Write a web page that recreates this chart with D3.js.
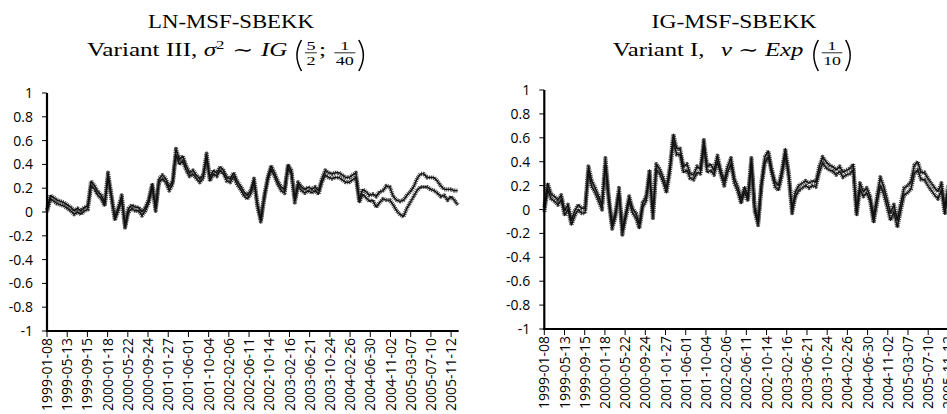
<!DOCTYPE html>
<html lang="en">
<head>
<meta charset="UTF-8">
<title>MSF-SBEKK correlations</title>
<script src="https://cdn.jsdelivr.net/npm/d3@7"></script>
<style>
  body { margin: 0; background: #fff; }
  svg { display: block; }
  .tick-label { font-family: "Open Sans", "DejaVu Sans", sans-serif; font-size: 14px; fill: #000; }
  .ttl { font-family: "Liberation Serif", "DejaVu Serif", serif; fill: #000; white-space: pre; }
  .axis-line { stroke: #000; stroke-width: 2.2; }
  .tick-mark { stroke: #000; stroke-width: 1; }
</style>
</head>
<body>
<svg id="chart" width="947" height="414"></svg>
<script>
// ---- data (21-day sampling from 1999-01-08) ----
var startDate = "1999-01-08";
var endDate = "2005-12-29";
var stepDays = 21;

var xTickLabels = ["1999-01-08","1999-05-13","1999-09-15","2000-01-18","2000-05-22",
  "2000-09-24","2001-01-27","2001-06-01","2001-10-04","2002-02-06","2002-06-11",
  "2002-10-14","2003-02-16","2003-06-21","2003-10-24","2004-02-26","2004-06-30",
  "2004-11-02","2005-03-07","2005-07-10","2005-11-12"];

var yTicks = [-1,-0.8,-0.6,-0.4,-0.2,0,0.2,0.4,0.6,0.8,1];

// LN-MSF-SBEKK, Variant III
var lnUpper = [
  0.02,0.14,0.12,0.10,0.09,0.08,0.06,0.04,0.01,0.03,
  0.01,0.04,0.05,0.26,0.22,0.17,0.14,0.08,0.33,0.14,
  -0.04,0.04,0.14,-0.11,0.03,0.06,0.04,0.04,0.00,0.04,
  0.11,0.24,0.04,0.28,0.31,0.28,0.21,0.26,0.53,0.44,
  0.47,0.39,0.33,0.35,0.31,0.28,0.31,0.49,0.29,0.35,
  0.33,0.38,0.35,0.29,0.28,0.33,0.26,0.22,0.17,0.14,
  0.18,0.28,0.07,-0.06,0.14,0.29,0.39,0.33,0.26,0.21,
  0.19,0.40,0.35,0.11,0.25,0.21,0.19,0.21,0.19,0.21,
  0.18,0.28,0.35,0.33,0.32,0.33,0.33,0.31,0.29,0.29,
  0.31,0.33,0.11,0.19,0.17,0.14,0.15,0.13,0.17,0.18,
  0.22,0.21,0.13,0.10,0.09,0.10,0.14,0.17,0.21,0.28,
  0.32,0.32,0.29,0.29,0.29,0.26,0.22,0.19,0.19,0.19,
  0.18,0.18];
var lnLower = [
  0.00,0.11,0.09,0.07,0.06,0.05,0.03,0.01,-0.02,0.00,
  -0.02,0.01,0.02,0.22,0.19,0.14,0.11,0.05,0.29,0.11,
  -0.07,0.01,0.10,-0.13,0.00,0.03,0.01,0.01,-0.03,0.01,
  0.08,0.21,0.01,0.25,0.28,0.25,0.18,0.23,0.48,0.40,
  0.43,0.35,0.30,0.32,0.28,0.25,0.28,0.45,0.26,0.32,
  0.30,0.35,0.32,0.26,0.25,0.30,0.23,0.19,0.14,0.11,
  0.15,0.25,0.04,-0.08,0.11,0.26,0.36,0.30,0.23,0.18,
  0.16,0.37,0.32,0.08,0.22,0.18,0.16,0.18,0.16,0.18,
  0.15,0.25,0.31,0.29,0.28,0.29,0.29,0.27,0.25,0.25,
  0.27,0.29,0.08,0.15,0.12,0.09,0.10,0.04,0.08,0.11,
  0.10,0.10,0.06,0.01,-0.02,-0.04,0.03,0.08,0.13,0.18,
  0.21,0.21,0.21,0.19,0.18,0.16,0.13,0.14,0.10,0.13,
  0.10,0.06];

// IG-MSF-SBEKK, Variant I
var igUpper = [
  0.02,0.22,0.13,0.11,0.08,0.12,-0.01,0.04,-0.09,-0.01,
  0.04,0.01,0.01,0.36,0.24,0.18,0.11,0.04,0.43,0.11,
  -0.12,-0.02,0.18,-0.17,-0.03,0.11,0.01,-0.03,-0.12,0.06,
  0.11,0.33,-0.03,0.38,0.34,0.27,0.18,0.36,0.63,0.51,
  0.51,0.36,0.38,0.30,0.29,0.36,0.34,0.58,0.36,0.38,
  0.33,0.45,0.33,0.24,0.36,0.43,0.26,0.19,0.09,0.19,
  0.11,0.43,0.02,-0.09,0.24,0.44,0.49,0.34,0.23,0.20,
  0.33,0.51,0.31,0.01,0.15,0.20,0.22,0.24,0.22,0.24,
  0.23,0.36,0.44,0.40,0.37,0.36,0.33,0.36,0.31,0.33,
  0.34,0.38,-0.01,0.22,0.15,0.18,0.11,-0.06,0.11,0.27,
  0.19,0.08,-0.03,0.04,-0.09,0.05,0.18,0.20,0.23,0.37,
  0.40,0.31,0.31,0.26,0.22,0.18,0.15,0.22,0.02,0.20,
  0.17,0.18];
var igLower = [
  -0.02,0.17,0.09,0.07,0.04,0.08,-0.05,0.00,-0.13,-0.05,
  0.00,-0.03,-0.03,0.31,0.19,0.14,0.07,0.00,0.37,0.06,
  -0.16,-0.06,0.13,-0.21,-0.07,0.07,-0.03,-0.07,-0.16,0.02,
  0.07,0.28,-0.07,0.33,0.30,0.23,0.14,0.31,0.57,0.46,
  0.46,0.31,0.33,0.26,0.25,0.31,0.30,0.52,0.31,0.33,
  0.29,0.40,0.29,0.20,0.31,0.38,0.22,0.15,0.05,0.15,
  0.07,0.38,-0.02,-0.13,0.19,0.39,0.44,0.30,0.19,0.16,
  0.28,0.46,0.27,-0.03,0.11,0.16,0.18,0.20,0.18,0.20,
  0.19,0.31,0.39,0.35,0.33,0.32,0.29,0.32,0.27,0.29,
  0.30,0.33,-0.05,0.17,0.11,0.14,0.07,-0.11,0.05,0.20,
  0.13,0.02,-0.09,-0.02,-0.15,-0.01,0.12,0.14,0.17,0.30,
  0.33,0.25,0.25,0.20,0.16,0.12,0.09,0.16,-0.04,0.15,
  0.12,0.13];

var parse = d3.timeParse("%Y-%m-%d");
var t0 = parse(startDate);

var svg = d3.select("#chart");

var panels = [
  {left: 47, right: 458.7, top: 93, bottom: 331, series: [lnUpper, lnLower]},
  {left: 544.3, right: 956, top: 90, bottom: 329, series: [igUpper, igLower]}
];

panels.forEach(function (p) {
  var g = svg.append("g");

  var x = d3.scaleTime()
    .domain([t0, parse(endDate)])
    .range([p.left, p.right]);
  var y = d3.scaleLinear()
    .domain([-1, 1])
    .range([p.bottom, p.top]);

  var line = d3.line()
    .x(function (d, i) { return x(d3.timeDay.offset(t0, i * stepDays)); })
    .y(function (d) { return y(d); });

  // y axis ticks + labels
  g.selectAll("line.ytick").data(yTicks).enter().append("line")
    .attr("class", "tick-mark")
    .attr("x1", p.left - 5).attr("x2", p.left)
    .attr("y1", function (d) { return y(d); })
    .attr("y2", function (d) { return y(d); });
  g.selectAll("text.ylab").data(yTicks).enter().append("text")
    .attr("class", "tick-label")
    .attr("text-anchor", "end")
    .attr("x", p.left - 14)
    .attr("y", function (d) { return y(d); })
    .attr("dy", "0.36em")
    .text(function (d) { return String(+d.toFixed(1)); });

  // x axis ticks + rotated labels
  g.selectAll("line.xtick").data(xTickLabels).enter().append("line")
    .attr("class", "tick-mark")
    .attr("x1", function (d) { return x(parse(d)); })
    .attr("x2", function (d) { return x(parse(d)); })
    .attr("y1", p.bottom).attr("y2", p.bottom + 6);
  g.selectAll("text.xlab").data(xTickLabels).enter().append("text")
    .attr("class", "tick-label")
    .attr("text-anchor", "end")
    .attr("transform", function (d) {
      return "translate(" + x(parse(d)) + "," + (p.bottom + 7) + ") rotate(-90)";
    })
    .attr("dy", "0.36em")
    .text(function (d) { return d; });

  // series: dotted grey body with dark core
  p.series.forEach(function (s) {
    g.append("path").datum(s)
      .attr("fill", "none")
      .attr("stroke", "#4a4a4a")
      .attr("stroke-width", 4.2)
      .attr("stroke-dasharray", "1.1,0.8")
      .attr("stroke-linejoin", "round")
      .attr("d", line);
  });
  p.series.forEach(function (s) {
    g.append("path").datum(s)
      .attr("fill", "none")
      .attr("stroke", "#111")
      .attr("stroke-width", 1.4)
      .attr("stroke-linejoin", "round")
      .attr("d", line);
  });

  // axis lines
  g.append("line").attr("class", "axis-line")
    .attr("x1", p.left).attr("x2", p.left)
    .attr("y1", p.top).attr("y2", p.bottom + 1);
  g.append("line").attr("class", "axis-line")
    .attr("x1", p.left - 1).attr("x2", p.right)
    .attr("y1", p.bottom).attr("y2", p.bottom);
});

// ---- titles (LaTeX-like) ----
function drawMath(parts, cx, base, targetW) {
  var g = svg.append("g");
  var xx = 0;
  parts.forEach(function (p) {
    if (p.frac) {
      var n = g.append("text").attr("class", "ttl").style("font-size", "13px")
        .attr("text-anchor", "middle").text(p.frac[0]);
      var d = g.append("text").attr("class", "ttl").style("font-size", "13px")
        .attr("text-anchor", "middle").text(p.frac[1]);
      var w = Math.max(n.node().getComputedTextLength(), d.node().getComputedTextLength()) + 3;
      n.attr("x", xx + w / 2).attr("y", base - 6);
      d.attr("x", xx + w / 2).attr("y", base + 9.5);
      g.append("line").attr("x1", xx + 0.5).attr("x2", xx + w - 0.5)
        .attr("y1", base - 3.2).attr("y2", base - 3.2)
        .attr("stroke", "#000").attr("stroke-width", 0.7);
      xx += w + 1;
    } else if (p.paren) {
      var top = base - 16, bot = base + 15;
      var dpath = p.paren === "(" ?
        "M" + (xx + 7) + "," + top + " Q" + (xx + 0.5) + "," + (base - 0.5) + " " + (xx + 7) + "," + bot :
        "M" + (xx + 1) + "," + top + " Q" + (xx + 7.5) + "," + (base - 0.5) + " " + (xx + 1) + "," + bot;
      g.append("path").attr("d", dpath).attr("fill", "none")
        .attr("stroke", "#000").attr("stroke-width", 1.1);
      xx += 9;
    } else {
      var t = g.append("text").attr("class", "ttl")
        .attr("x", xx).attr("y", base + (p.dy || 0))
        .style("font-size", (p.size || 18) + "px")
        .style("font-style", p.it ? "italic" : "normal")
        .text(p.t);
      xx += t.node().getComputedTextLength() + (p.gap || 0);
    }
  });
  var sx = targetW / xx;
  g.attr("transform", "translate(" + (cx - targetW / 2) + ",0) scale(" + sx + ",1)");
  return g;
}

function titleLine(txt, cx, base, targetW) {
  var t = svg.append("text").attr("class", "ttl").style("font-size", "18px").text(txt);
  var w = t.node().getComputedTextLength();
  t.attr("text-anchor", "middle")
    .attr("transform", "translate(" + cx + "," + base + ") scale(" + (targetW / w) + ",1)");
}

titleLine("LN-MSF-SBEKK", 231, 28, 166);
drawMath([
  {t: "Variant III, "},
  {t: "σ", it: true},
  {t: "2", size: 12, dy: -7, gap: 1},
  {t: " ∼ ", gap: 1},
  {t: "IG", it: true, gap: 3},
  {paren: "("},
  {frac: ["5", "2"]},
  {t: "; ", gap: 1},
  {frac: ["1", "40"]},
  {paren: ")"}
], 228.5, 56, 283);

titleLine("IG-MSF-SBEKK", 734, 28, 165);
drawMath([
  {t: "Variant I,  ", gap: 3},
  {t: "v", it: true},
  {t: " ∼ "},
  {t: "Exp", it: true, gap: 4},
  {paren: "("},
  {frac: ["1", "10"]},
  {paren: ")"}
], 734.7, 56, 244);
</script>
</body>
</html>
